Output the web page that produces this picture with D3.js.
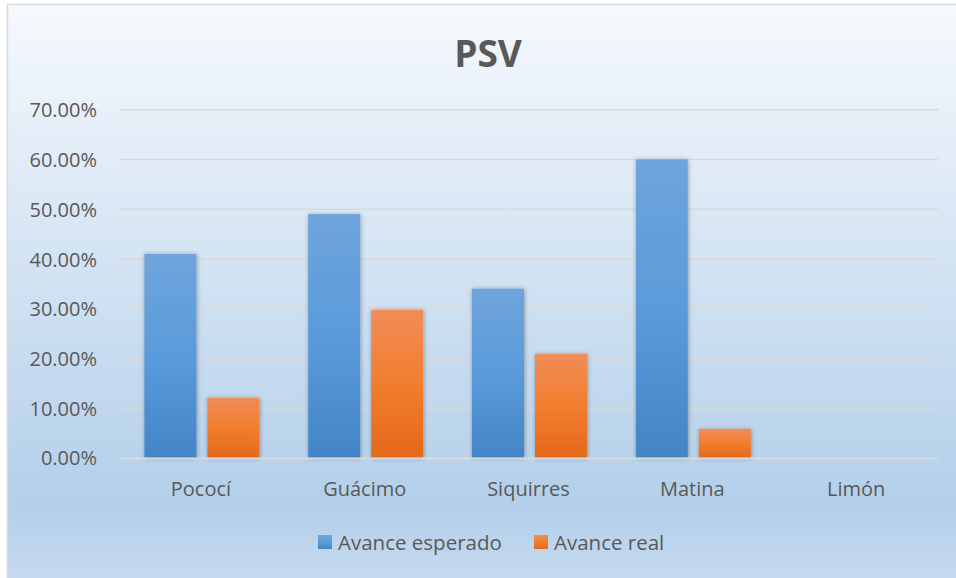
<!DOCTYPE html>
<html><head><meta charset="utf-8">
<script src="https://cdn.jsdelivr.net/npm/d3@7"></script>
<style>html,body{margin:0;padding:0;background:#fff;}svg{display:block;}</style>
</head><body><svg id="c" width="956" height="578"></svg>
<script>
const categories = ["Pococí", "Guácimo", "Siquirres", "Matina", "Limón"];
const seriesNames = ["Avance esperado", "Avance real"];
const esperado = [0.41, 0.49, 0.34, 0.60, 0];
const real = [0.12, 0.297, 0.209, 0.058, 0];
const yTicks = [0, 0.1, 0.2, 0.3, 0.4, 0.5, 0.6, 0.7];
const title = "PSV";

(function(){
const svg = d3.select("#c");
const defs = svg.append("defs");
const FONT = "'Open Sans', 'Noto Sans', sans-serif";
const TXT = "#595959";

const bg = defs.append("linearGradient").attr("id","bg").attr("x1",0).attr("y1",0).attr("x2",0).attr("y2",1);
bg.append("stop").attr("offset","0%").attr("stop-color","#f6f9fd");
bg.append("stop").attr("offset","85%").attr("stop-color","#b3cfea");
bg.append("stop").attr("offset","100%").attr("stop-color","#c9dcf0");

const gB = defs.append("linearGradient").attr("id","gB").attr("x1",0).attr("y1",0).attr("x2",0).attr("y2",1);
gB.append("stop").attr("offset","0%").attr("stop-color","#6ea5db");
gB.append("stop").attr("offset","50%").attr("stop-color","#5a9bdb");
gB.append("stop").attr("offset","100%").attr("stop-color","#4385c6");
const gO = defs.append("linearGradient").attr("id","gO").attr("x1",0).attr("y1",0).attr("x2",0).attr("y2",1);
gO.append("stop").attr("offset","0%").attr("stop-color","#f08d58");
gO.append("stop").attr("offset","50%").attr("stop-color","#f27d2e");
gO.append("stop").attr("offset","100%").attr("stop-color","#e4691b");

const sh = defs.append("filter").attr("id","sh").attr("x","-30%").attr("y","-30%").attr("width","160%").attr("height","160%");
sh.append("feDropShadow").attr("dx",0.5).attr("dy",0.5).attr("stdDeviation",2.2).attr("flood-color","#000").attr("flood-opacity",0.35);

svg.append("rect").attr("x",7.5).attr("y",4.5).attr("width",960).attr("height",590)
  .attr("fill","url(#bg)").attr("stroke","#d9d9d9").attr("stroke-width",1.5);

const pl = 119, pr = 938, pt = 109.7, pb = 457.7;
const x = d3.scaleBand().domain(categories).range([pl, pr]).paddingInner(0).paddingOuter(0);
const y = d3.scaleLinear().domain([0, 0.7]).range([pb, pt]);

svg.append("g").selectAll("line").data(yTicks.filter(d => d > 0)).join("line")
  .attr("x1", pl).attr("x2", pr)
  .attr("y1", d => y(d)).attr("y2", d => y(d))
  .attr("stroke", "#d9d9d9").attr("stroke-width", 1.5);

const yAxis = d3.axisLeft(y).tickValues(yTicks).tickSize(0).tickPadding(22)
  .tickFormat(d => (d*100).toFixed(2) + "%");
const ya = svg.append("g").attr("transform", `translate(${pl},0)`).call(yAxis);
ya.select(".domain").remove();
ya.selectAll("text").attr("font-family", FONT).attr("font-size", 20).attr("fill", TXT).attr("dy","0.36em");

const bw = 52, gap = 11;
const series = [esperado, real];
const fills = ["url(#gB)", "url(#gO)"];
series.forEach((vals, si) => {
  const data = vals.map((v,i)=>({c:categories[i], v})).filter(d => d.v > 0);
  svg.append("g").selectAll("rect").data(data).join("rect")
    .attr("x", d => x(d.c) + x.bandwidth()/2 - (bw + gap/2) + si*(bw + gap) + 1)
    .attr("width", bw)
    .attr("y", d => y(d.v))
    .attr("height", d => y(0) - y(d.v))
    .attr("fill", fills[si])
    .attr("filter", "url(#sh)");
});

svg.append("line").attr("x1", pl).attr("x2", pr).attr("y1", pb+0.8).attr("y2", pb+0.8)
  .attr("stroke", "#d9d9d9").attr("stroke-width", 2);

const xAxis = d3.axisBottom(x).tickSize(0).tickPadding(24);
const xa = svg.append("g").attr("transform", `translate(0,${pb})`).call(xAxis);
xa.select(".domain").remove();
xa.selectAll("text").attr("font-family", FONT).attr("font-size", 20).attr("fill", TXT);

svg.append("text").attr("x", 488).attr("y", 67).attr("text-anchor","middle")
  .attr("font-family", FONT).attr("font-weight", "bold").attr("font-size", 37).attr("fill", TXT).text(title);

const lg = svg.append("g");
const legX = [318, 534];
seriesNames.forEach((n, i) => {
  lg.append("rect").attr("x", legX[i]).attr("y", 535).attr("width", 14).attr("height", 14).attr("fill", fills[i]);
  lg.append("text").attr("x", legX[i] + 20).attr("y", 549.5).attr("font-family", FONT).attr("font-size", 20.5)
    .attr("fill", TXT).text(n);
});
})();
</script></body></html>
